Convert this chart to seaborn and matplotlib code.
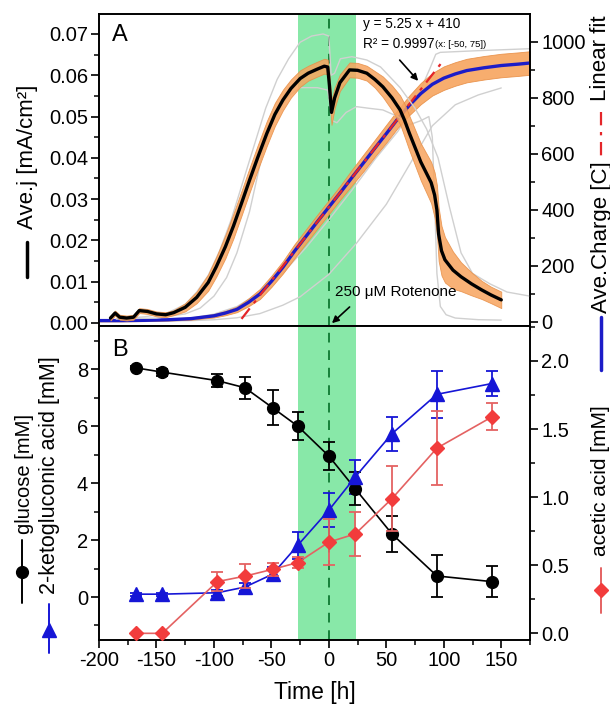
import numpy as np
import pandas as pd
import seaborn as sns
import matplotlib.pyplot as plt
from matplotlib.lines import Line2D
from matplotlib.ticker import MultipleLocator, FormatStrFormatter

# ---------------- data: panel A ----------------
j_time = [-190, -186, -182, -176, -170, -165, -158, -150, -142, -135,
          -125, -115, -105, -98, -90, -83, -76, -69, -62, -54,
          -47, -40, -33, -25, -18, -10, -4, -1, 0.5, 2.3,
          5, 9.6, 18, 25, 33, 40, 47, 55, 62, 66,
          70, 80, 89, 92, 94, 95.5, 98, 101, 108, 115,
          124, 133, 141, 150]
j_mean = [0.0012, 0.0024, 0.0014, 0.0012, 0.0014, 0.0030, 0.0028, 0.0022, 0.0020, 0.0025,
          0.0038, 0.0062, 0.0098, 0.0136, 0.0185, 0.0235, 0.0290, 0.0346, 0.0400, 0.0459,
          0.0505, 0.0540, 0.0568, 0.0592, 0.0605, 0.0615, 0.0622, 0.0620, 0.0575, 0.0510,
          0.0545, 0.0582, 0.0613, 0.0612, 0.0605, 0.0590, 0.0572, 0.0545, 0.0516, 0.0490,
          0.0460, 0.0390, 0.0340, 0.0310, 0.0274, 0.0215, 0.0175, 0.0153, 0.0128, 0.0112,
          0.0095, 0.0080, 0.0068, 0.0056]
j_sd = [0.0006] * 10 + [
          0.0010, 0.0014, 0.0020, 0.0024, 0.0028, 0.0030, 0.0030, 0.0030, 0.0030, 0.0030,
          0.0028, 0.0025, 0.0022, 0.0020, 0.0018, 0.0018, 0.0018, 0.0018, 0.0025, 0.0030,
          0.0025, 0.0020, 0.0018, 0.0018, 0.0018, 0.0020, 0.0025, 0.0030, 0.0035, 0.0040,
          0.0042, 0.0045, 0.0050, 0.0055, 0.0060, 0.0065, 0.0060, 0.0055, 0.0045, 0.0035,
          0.0028, 0.0022, 0.0020, 0.0020]

rep1_time = [-185, -160, -140, -125, -115, -105, -95, -85, -75, -65, -55, -45, -35, -25, -15,
             -5, 0, 2, 5, 10, 20, 33, 45, 62, 75, 85, 95, 105, 115, 125, 140, 155, 175]
rep1_j = [0.0010, 0.0015, 0.0025, 0.0045, 0.0075, 0.0115, 0.0175, 0.0250, 0.0340, 0.0430,
          0.0520, 0.0590, 0.0640, 0.0680, 0.0695, 0.0700, 0.0695, 0.0600, 0.0605, 0.0640,
          0.0645, 0.0637, 0.0620, 0.0570, 0.0520, 0.0470, 0.0400, 0.0280, 0.0170, 0.0120,
          0.0095, 0.0075, 0.0065]
rep2_time = [-185, -150, -125, -112, -100, -89, -80, -69, -57, -46, -35, -25, -10, -1, 3, 7,
             15, 24, 35, 47, 60, 70, 80, 87, 90, 92, 94, 97, 102, 110, 130, 150]
rep2_j = [0.0010, 0.0012, 0.0022, 0.0036, 0.0065, 0.0110, 0.0170, 0.0270, 0.0420, 0.0510,
          0.0550, 0.0570, 0.0570, 0.0564, 0.0490, 0.0485, 0.0510, 0.0524, 0.0520, 0.0516,
          0.0500, 0.0480, 0.0490, 0.0500, 0.0450, 0.0300, 0.0120, 0.0040, 0.0020, 0.0012,
          0.0008, 0.0007]

q_time = [-200, -180, -160, -140, -120, -100, -90, -80, -70, -60, -50, -40, -30, -20, -10,
          0, 10, 20, 30, 40, 50, 60, 70, 80, 90, 100, 110, 120, 135, 150, 165, 175]
q_mean = [5, 5, 6, 8, 12, 22, 32, 45, 70, 100, 145, 195, 252, 305, 358,
          410, 462, 515, 567, 620, 672, 725, 773, 815, 848, 870, 885, 897, 907, 915, 920, 924]
q_sd = [3, 3, 3, 3, 4, 6, 8, 10, 14, 18, 20, 22, 25, 25, 25,
        25, 25, 28, 30, 30, 32, 32, 35, 38, 40, 42, 42, 42, 42, 42, 42, 42]
repq1_time = [-200, -150, -120, -100, -80, -60, -40, -20, 0, 20, 40, 60, 72, 80, 88, 93, 97, 130, 175]
repq1_q = [3, 6, 14, 28, 55, 105, 175, 265, 365, 470, 580, 680, 757, 830, 905, 955, 962, 968, 975]
repq2_time = [-200, -150, -120, -100, -80, -60, -40, -25, 0, 24, 50, 70, 90, 110, 130, 150]
repq2_q = [2, 3, 5, 8, 15, 30, 60, 90, 170, 281, 420, 560, 700, 775, 810, 835]

fit_slope, fit_intercept = 5.25, 410
fit_range = [-76, 98]

rotenone_window = [-27, 24]
rotenone_time = 0

# ---------------- data: panel B ----------------
t_samples = [-168, -145, -97, -73, -49, -27, 0, 23, 55, 94, 142]
glucose = [8.05, 7.9, 7.6, 7.35, 6.65, 6.0, 4.95, 3.8, 2.21, 0.74, 0.54]
glucose_err = [0.05, 0.12, 0.22, 0.38, 0.62, 0.5, 0.5, 0.58, 0.63, 0.73, 0.55]
keto = [0.1, 0.1, 0.15, 0.35, 0.8, 1.82, 3.05, 4.22, 5.74, 7.12, 7.5]
keto_err = [0.05, 0.05, 0.1, 0.15, 0.25, 0.47, 0.6, 0.6, 0.6, 0.82, 0.45]
acetic = [0.0, 0.0, 0.38, 0.42, 0.47, 0.52, 0.67, 0.73, 0.99, 1.36, 1.59]
acetic_err = [0.0, 0.0, 0.07, 0.09, 0.05, 0.04, 0.17, 0.16, 0.24, 0.27, 0.10]

# ---------------- style ----------------
sns.set_theme(style='ticks')
plt.rcParams['font.family'] = ['Liberation Sans', 'DejaVu Sans']
plt.rcParams['axes.unicode_minus'] = False
plt.rcParams['axes.linewidth'] = 1.2
for k in ('text.color', 'axes.labelcolor', 'xtick.color', 'ytick.color', 'axes.edgecolor'):
    plt.rcParams[k] = 'black'

GREEN = '#88e8a8'
ORANGE = '#f7a45e'
BLUE = '#1c1cc8'
RED = '#e4262a'
GREY = '#d0d0d0'

fig = plt.figure(figsize=(6.1, 7.11), dpi=100)
W, H = 610, 711
def fx(px): return px / W
def fy(py): return 1 - py / H

ax1q = fig.add_axes([fx(99), fy(326), fx(530) - fx(99), fy(14) - fy(326)])
ax1q.yaxis.tick_right()
ax1 = fig.add_axes(ax1q.get_position(), sharex=ax1q)
ax1.patch.set_visible(False)

ax2 = fig.add_axes([fx(99), fy(640), fx(530) - fx(99), fy(326) - fy(640)])
ax2r = ax2.twinx()

# ---- panel A: charge (underneath) ----
ax1q.axvspan(*rotenone_window, color=GREEN, lw=0, zorder=0)
ax1q.axvline(rotenone_time, color='#16813a', lw=1.4, dashes=(5, 4), zorder=1)
sns.lineplot(x=repq1_time, y=repq1_q, ax=ax1q, color=GREY, lw=1.0, estimator=None, sort=False, zorder=1.5)
sns.lineplot(x=repq2_time, y=repq2_q, ax=ax1q, color=GREY, lw=1.0, estimator=None, sort=False, zorder=1.5)
qm = np.array(q_mean); qs = np.array(q_sd)
ax1q.fill_between(q_time, qm - qs, qm + qs, color=ORANGE, alpha=0.9, lw=0.6, edgecolor='#e88e45', zorder=2)
sns.lineplot(x=q_time, y=q_mean, ax=ax1q, color=BLUE, lw=2.4, estimator=None, sort=False, zorder=3)
fit_y = [fit_slope * x + fit_intercept for x in fit_range]
ax1q.plot(fit_range, fit_y, color=RED, lw=1.6, dashes=(6, 3, 1.5, 3), zorder=4)

# ---- panel A: current density ----
sns.lineplot(x=rep1_time, y=rep1_j, ax=ax1, color=GREY, lw=1.0, estimator=None, sort=False, zorder=1)
sns.lineplot(x=rep2_time, y=rep2_j, ax=ax1, color=GREY, lw=1.0, estimator=None, sort=False, zorder=1)
jm = np.array(j_mean); js = np.array(j_sd)
ax1.fill_between(j_time, jm - js, jm + js, color=ORANGE, alpha=0.85, lw=0.6, edgecolor='#e88e45', zorder=2)
sns.lineplot(x=j_time, y=j_mean, ax=ax1, color='black', lw=2.4, estimator=None, sort=False, zorder=3)

ax1.set_xlim(-200, 175)
ax1.set_ylim(-0.00073, 0.07484)
ax1q.set_ylim(-14.3, 1098.8)

# ---- panel B ----
ax2.axvspan(*rotenone_window, color=GREEN, lw=0, zorder=0)
ax2.axvline(rotenone_time, color='#16813a', lw=1.4, dashes=(5, 4), zorder=1)
ax2.errorbar(t_samples, glucose, yerr=glucose_err, color='black', marker='o', ms=8.5,
             lw=1.2, elinewidth=1.3, capsize=4, capthick=1.3, zorder=3)
ax2.errorbar(t_samples, keto, yerr=keto_err, color='#1616d6', marker='^', ms=9.5,
             lw=1.2, elinewidth=1.3, capsize=4, capthick=1.3, zorder=3)
ax2r.errorbar(t_samples, acetic, yerr=acetic_err, color='#e46262', marker='D', ms=7.5,
              mfc='#f23c3c', mec='#f23c3c', lw=1.2, elinewidth=1.3, capsize=4, capthick=1.3, zorder=3)
ax2.set_xlim(-200, 175)
ax2.set_ylim(-1.51, 9.52)
ax2r.set_ylim(-0.049, 2.257)

# ---- ticks ----
for a in (ax1, ax1q, ax2, ax2r):
    a.tick_params(which='major', direction='out', length=6, width=1.2, labelsize=14.5, pad=2, color='black',
                  labelcolor='black')
    a.tick_params(which='minor', direction='out', length=3.5, width=1.1, color='black')
    for s in a.spines.values():
        s.set_color('black'); s.set_linewidth(1.2)

ax1.yaxis.set_major_locator(MultipleLocator(0.01))
ax1.yaxis.set_minor_locator(MultipleLocator(0.005))
ax1.yaxis.set_major_formatter(FormatStrFormatter('%.2f'))
ax1.tick_params(axis='y', left=True, right=False, labelleft=True, labelright=False)
ax1.tick_params(axis='x', bottom=False, labelbottom=False)
ax1q.yaxis.set_major_locator(MultipleLocator(200))
ax1q.yaxis.set_minor_locator(MultipleLocator(100))
ax1q.tick_params(axis='y', which='both', left=False, right=True, labelleft=False, labelright=True)
for a in (ax1q, ax2):
    a.xaxis.set_major_locator(MultipleLocator(50))
    a.xaxis.set_minor_locator(MultipleLocator(25))
ax1q.tick_params(axis='x', which='both', bottom=True, labelbottom=False)
ax2.yaxis.set_major_locator(MultipleLocator(2))
ax2.yaxis.set_minor_locator(MultipleLocator(1))
ax2r.yaxis.set_major_locator(MultipleLocator(0.5))
ax2r.yaxis.set_minor_locator(MultipleLocator(0.25))
ax2r.yaxis.set_major_formatter(FormatStrFormatter('%.1f'))
ax2.set_xlabel('Time [h]', fontsize=16.5, labelpad=8)
ax1.set_ylabel(''); ax1q.set_ylabel(''); ax1.set_xlabel(''); ax1q.set_xlabel('')
ax2.set_ylabel(''); ax2r.set_ylabel('')

# ---- annotations ----
ax1.text(-189, 0.933, 'A', transform=ax1.get_xaxis_transform(), fontsize=17, va='center', ha='left')
ax2.text(-189, 0.924, 'B', transform=ax2.get_xaxis_transform(), fontsize=17, va='center', ha='left')
xt = ax1.get_xaxis_transform()
ax1.text(29.5, 0.968, 'y = 5.25 x + 410', transform=xt, fontsize=9.8, va='center', ha='left')
ax1.text(29.5, 0.905, 'R² = 0.9997', transform=xt, fontsize=9.8, va='center', ha='left')
ax1.text(92.3, 0.902, '(x: [-50, 75])', transform=xt, fontsize=6.8, va='center', ha='left')
ax1.annotate('', xy=(79.3, 0.779), xytext=(60, 0.859), xycoords=xt, textcoords=xt,
             arrowprops=dict(arrowstyle='-|>', color='black', lw=1.2, mutation_scale=10))
ax1.text(5.2, 0.109, '250 μM Rotenone', transform=xt, fontsize=11, va='center', ha='left')
ax1.annotate('', xy=(0.9, 0.003), xytext=(19.8, 0.067), xycoords=xt, textcoords=xt,
             arrowprops=dict(arrowstyle='-|>', color='black', lw=1.2, mutation_scale=10))

# ---- composite axis labels ----
fig.text(fx(28), fy(157), 'Ave.j [mA/cm²]', rotation=90, fontsize=16, ha='center', va='center')
fig.add_artist(Line2D([fx(27), fx(27)], [fy(242), fy(277)], color='black', lw=2.5, transform=fig.transFigure))

fig.text(fx(601), fy(58), 'Linear fit', rotation=90, fontsize=16, ha='center', va='center')
fig.add_artist(Line2D([fx(601), fx(601)], [fy(112), fy(157)], color=RED, lw=1.6, dashes=(6, 3, 1.5, 3),
                      transform=fig.transFigure))
fig.text(fx(601), fy(237), 'Ave.Charge [C]', rotation=90, fontsize=16, ha='center', va='center')
fig.add_artist(Line2D([fx(601), fx(601)], [fy(317), fy(370)], color=BLUE, lw=2.5, transform=fig.transFigure))

fig.text(fx(601), fy(481), 'acetic acid [mM]', rotation=90, fontsize=15, ha='center', va='center')
fig.add_artist(Line2D([fx(601), fx(601)], [fy(568), fy(613)], color='#e46262', lw=1.4, transform=fig.transFigure))
fig.add_artist(Line2D([fx(601)], [fy(590)], color='#f23c3c', marker='D', ms=7.5, lw=0, transform=fig.transFigure))

fig.text(fx(25), fy(474), 'glucose [mM]', rotation=90, fontsize=14.5, ha='center', va='center')
fig.add_artist(Line2D([fx(22), fx(22)], [fy(540), fy(603)], color='black', lw=1.4, transform=fig.transFigure))
fig.add_artist(Line2D([fx(22)], [fy(572)], color='black', marker='o', ms=8.5, lw=0, transform=fig.transFigure))
fig.text(fx(50), fy(475), '2-ketogluconic acid [mM]', rotation=90, fontsize=15.5, ha='center', va='center')
fig.add_artist(Line2D([fx(49), fx(49)], [fy(604), fy(653)], color='#1616d6', lw=1.4, transform=fig.transFigure))
fig.add_artist(Line2D([fx(49)], [fy(630)], color='#1616d6', marker='^', ms=9.5, lw=0, transform=fig.transFigure))

fig.savefig('out.png', dpi=100)
